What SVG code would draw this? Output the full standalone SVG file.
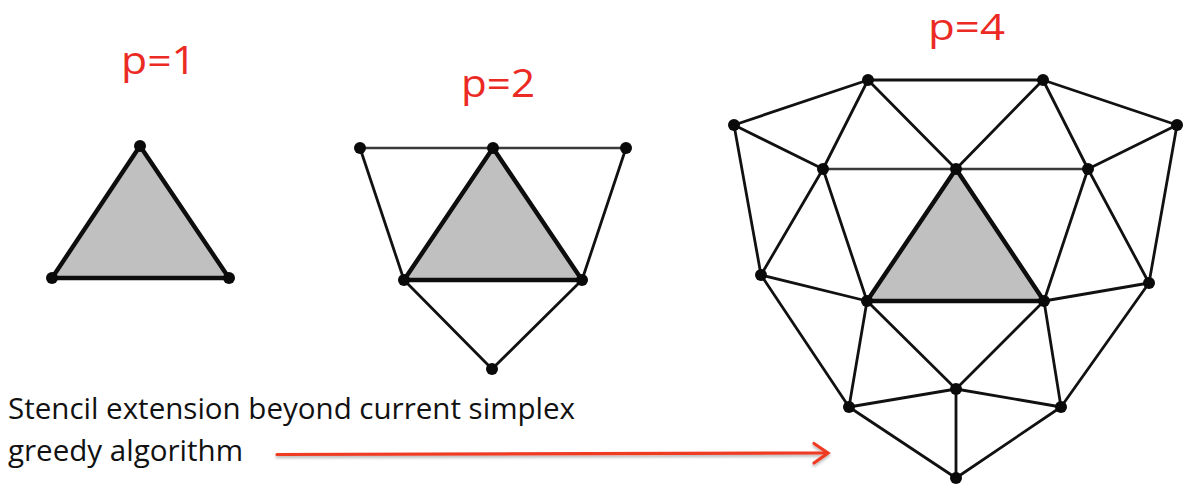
<svg xmlns="http://www.w3.org/2000/svg" width="1189" height="488" viewBox="0 0 1189 488">
<defs>
<style>
.lbl{font-family:"Open Sans","Liberation Sans",sans-serif;font-size:39px;fill:#ec2a24}
.txt{font-family:"Open Sans","Liberation Sans",sans-serif;font-size:30px;fill:#111}
.e{stroke:#111;stroke-width:2.8;fill:none;stroke-linecap:round}
.eg{stroke:#3a3a3a;stroke-width:2.6;fill:none}
.t{fill:#c0c0c0;stroke:#0d0d0d;stroke-width:4.4;stroke-linejoin:round}
.v{fill:#0a0a0a}
.arr{stroke:#ee3a24;stroke-width:3.2;fill:none;stroke-linecap:round;stroke-linejoin:miter}
</style>
<filter id="sh" x="-5%" y="-50%" width="110%" height="200%">
<feDropShadow dx="0" dy="2" stdDeviation="1.5" flood-color="#000" flood-opacity="0.3"/>
</filter>
</defs>
<rect width="1189" height="488" fill="#fff"/>

<text class="lbl" x="121" y="74" textLength="75" lengthAdjust="spacingAndGlyphs">p=1</text>
<text class="lbl" x="461" y="97" textLength="74" lengthAdjust="spacingAndGlyphs">p=2</text>
<text class="lbl" x="928" y="40" font-size="37" style="font-size:37px" textLength="77" lengthAdjust="spacingAndGlyphs">p=4</text>

<text class="txt" x="8" y="419" textLength="567" lengthAdjust="spacingAndGlyphs">Stencil extension beyond current simplex</text>
<text class="txt" x="8" y="461" textLength="235" lengthAdjust="spacingAndGlyphs">greedy algorithm</text>

<g id="arrow" filter="url(#sh)">
<line class="arr" x1="277" y1="454.5" x2="827" y2="453"/>
<polyline class="arr" points="814,443.5 828,453 814,463"/>
</g>

<!-- p=1 -->
<g id="p1-cell"><polygon class="t" points="140,146 52,278 229,278"/></g>
<g id="p1-n1"><circle class="v" cx="140" cy="146" r="6"/></g>
<g id="p1-n2"><circle class="v" cx="52" cy="278" r="6"/></g>
<g id="p1-n3"><circle class="v" cx="229" cy="278" r="6"/></g>

<!-- p=2 connectors -->
<g id="p2-connectors">
<line class="eg" x1="360" y1="148" x2="626" y2="148"/>
<line class="e" x1="360" y1="148" x2="404" y2="280"/>
<line class="e" x1="626" y1="148" x2="582" y2="280"/>
<line class="e" x1="404" y1="280" x2="492" y2="369"/>
<line class="e" x1="582" y1="280" x2="492" y2="369"/>
</g>
<g id="p2-cell"><polygon class="t" points="493,148 404,280 582,280"/></g>
<g id="p2-n1"><circle class="v" cx="360" cy="148" r="6"/></g>
<g id="p2-n2"><circle class="v" cx="493" cy="148" r="6"/></g>
<g id="p2-n3"><circle class="v" cx="626" cy="148" r="6"/></g>
<g id="p2-n4"><circle class="v" cx="404" cy="280" r="6"/></g>
<g id="p2-n5"><circle class="v" cx="582" cy="280" r="6"/></g>
<g id="p2-n6"><circle class="v" cx="492" cy="369" r="6"/></g>

<!-- p=4 connectors -->
<g id="p4-connectors">
<line class="e" x1="868" y1="80" x2="1043" y2="80"/>
<line class="e" x1="868" y1="80" x2="734" y2="125"/>
<line class="e" x1="868" y1="80" x2="823" y2="169"/>
<line class="e" x1="868" y1="80" x2="956" y2="169"/>
<line class="e" x1="1043" y1="80" x2="956" y2="169"/>
<line class="e" x1="1043" y1="80" x2="1088" y2="169"/>
<line class="e" x1="1043" y1="80" x2="1177" y2="125"/>
<line class="e" x1="734" y1="125" x2="823" y2="169"/>
<line class="e" x1="734" y1="125" x2="761" y2="275"/>
<line class="e" x1="1177" y1="125" x2="1088" y2="169"/>
<line class="e" x1="1177" y1="125" x2="1149" y2="283"/>
<line class="eg" x1="823" y1="169" x2="1088" y2="169"/>
<line class="e" x1="823" y1="169" x2="761" y2="275"/>
<line class="e" x1="823" y1="169" x2="867" y2="301"/>
<line class="e" x1="1088" y1="169" x2="1044" y2="301"/>
<line class="e" x1="1088" y1="169" x2="1149" y2="283"/>
<line class="e" x1="761" y1="275" x2="867" y2="301"/>
<line class="e" x1="761" y1="275" x2="849" y2="407"/>
<line class="e" x1="1149" y1="283" x2="1044" y2="301"/>
<line class="e" x1="1149" y1="283" x2="1061" y2="407"/>
<line class="e" x1="867" y1="301" x2="849" y2="407"/>
<line class="e" x1="867" y1="301" x2="956" y2="389"/>
<line class="e" x1="1044" y1="301" x2="956" y2="389"/>
<line class="e" x1="1044" y1="301" x2="1061" y2="407"/>
<line class="e" x1="849" y1="407" x2="956" y2="389"/>
<line class="e" x1="1061" y1="407" x2="956" y2="389"/>
<line class="e" x1="956" y1="389" x2="956" y2="478"/>
<line class="e" x1="849" y1="407" x2="956" y2="478"/>
<line class="e" x1="1061" y1="407" x2="956" y2="478"/>
</g>
<g id="p4-cell"><polygon class="t" points="956,169 867,301 1044,301"/></g>
<g id="p4-n1"><circle class="v" cx="868" cy="80" r="6"/></g>
<g id="p4-n2"><circle class="v" cx="1043" cy="80" r="6"/></g>
<g id="p4-n3"><circle class="v" cx="734" cy="125" r="6"/></g>
<g id="p4-n4"><circle class="v" cx="1177" cy="125" r="6"/></g>
<g id="p4-n5"><circle class="v" cx="823" cy="169" r="6"/></g>
<g id="p4-n6"><circle class="v" cx="956" cy="169" r="6"/></g>
<g id="p4-n7"><circle class="v" cx="1088" cy="169" r="6"/></g>
<g id="p4-n8"><circle class="v" cx="761" cy="275" r="6"/></g>
<g id="p4-n9"><circle class="v" cx="1149" cy="283" r="6"/></g>
<g id="p4-n10"><circle class="v" cx="867" cy="301" r="6"/></g>
<g id="p4-n11"><circle class="v" cx="1044" cy="301" r="6"/></g>
<g id="p4-n12"><circle class="v" cx="956" cy="389" r="6"/></g>
<g id="p4-n13"><circle class="v" cx="849" cy="407" r="6"/></g>
<g id="p4-n14"><circle class="v" cx="1061" cy="407" r="6"/></g>
<g id="p4-n15"><circle class="v" cx="956" cy="478" r="6"/></g>
</svg>
